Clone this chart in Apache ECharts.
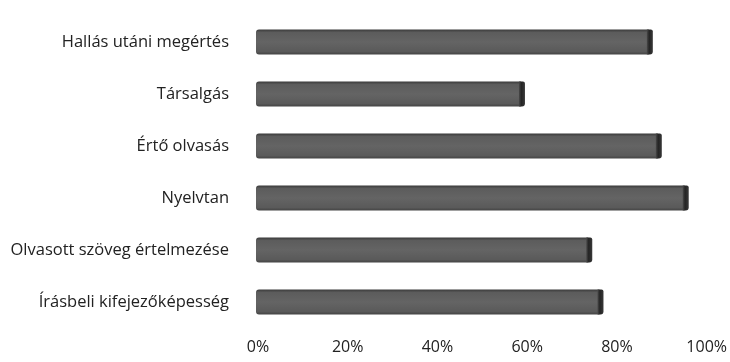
<!DOCTYPE html>
<html>
<head>
<meta charset="utf-8">
<script src="https://cdn.jsdelivr.net/npm/echarts@6/dist/echarts.min.js"></script>
<style>
  html, body { margin: 0; padding: 0; background: #fff; }
  #chart { width: 730px; height: 362px; }
</style>
</head>
<body>
<div id="chart"></div>
<script>
// Skill areas, top to bottom
const categories = [
  'Hallás utáni megértés',
  'Társalgás',
  'Értő olvasás',
  'Nyelvtan',
  'Olvasott szöveg értelmezése',
  'Írásbeli kifejezőképesség'
];
// Share of results (percent)
const values = [88, 59.5, 90, 96, 74.5, 77];
// Axis range and tick step (percent)
const axisMin = 0;
const axisMax = 100;
const axisStep = 20;

const chart = echarts.init(document.getElementById('chart'), null, { renderer: 'canvas' });

// Flat-shaded "3D" bar: front face plus a dark end cap
function renderBar(params, api) {
  const idx = api.value(1);
  const v = api.value(0);
  const start = api.coord([axisMin, idx]);
  const end = api.coord([v, idx]);
  const band = api.size([0, 1])[1];
  const h = band * 0.48;
  const y = start[1] - h / 2;
  const x0 = start[0] - 2;
  const x1 = end[0];
  const cap = 6;
  return {
    type: 'group',
    children: [
      {
        type: 'rect',
        shape: { x: x0, y: y, width: x1 - x0 - cap + 2, height: h, r: [3, 0, 0, 3] },
        style: {
          fill: new echarts.graphic.LinearGradient(0, 0, 0, 1, [
            { offset: 0, color: '#3a3a3a' },
            { offset: 0.12, color: '#5c5c5c' },
            { offset: 0.5, color: '#646464' },
            { offset: 0.88, color: '#5a5a5a' },
            { offset: 1, color: '#444444' }
          ])
        }
      },
      {
        type: 'rect',
        shape: { x: x1 - cap, y: y, width: cap, height: h, r: [0, 2, 3, 0] },
        style: {
          fill: new echarts.graphic.LinearGradient(0, 0, 1, 0, [
            { offset: 0, color: '#4a4a4a' },
            { offset: 0.4, color: '#242424' },
            { offset: 1, color: '#383838' }
          ])
        }
      }
    ]
  };
}

chart.setOption({
  animation: false,
  backgroundColor: '#ffffff',
  grid: { left: 258, right: 20, top: 16, bottom: 34, containLabel: false },
  xAxis: {
    type: 'value',
    min: axisMin,
    max: axisMax,
    interval: axisStep,
    axisLine: { show: false },
    axisTick: { show: false },
    splitLine: { show: false },
    axisLabel: {
      formatter: '{value}%',
      fontFamily: 'Open Sans',
      fontSize: 16,
      color: '#222',
      margin: 11
    }
  },
  yAxis: {
    type: 'category',
    inverse: true,
    data: categories,
    axisLine: { show: false },
    axisTick: { show: false },
    splitLine: { show: false },
    axisLabel: {
      fontFamily: 'Open Sans',
      fontSize: 16.5,
      color: '#222',
      margin: 29
    }
  },
  series: [{
    type: 'custom',
    renderItem: renderBar,
    encode: { x: 0, y: 1 },
    data: values.map((v, i) => [v, i])
  }]
});
</script>
</body>
</html>
